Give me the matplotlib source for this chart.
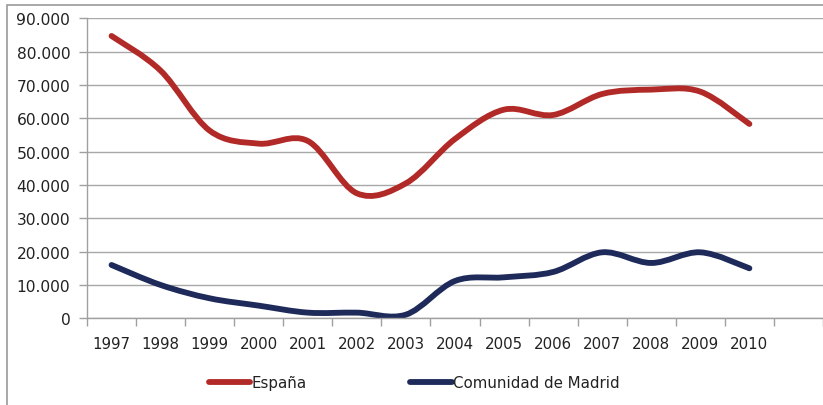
import numpy as np
import matplotlib.pyplot as plt
from matplotlib.path import Path
from matplotlib.patches import PathPatch, Rectangle
from matplotlib.lines import Line2D

plt.rcParams['font.family'] = ['DejaVu Sans']

years = ["1997", "1998", "1999", "2000", "2001", "2002", "2003",
         "2004", "2005", "2006", "2007", "2008", "2009", "2010"]
espana = [84.7, 74.3, 56.3, 52.4, 53.2, 37.5, 40.5,
          53.8, 62.6, 61.0, 67.3, 68.6, 68.0, 58.3]
madrid = [16.0, 10.0, 6.0, 3.8, 1.7, 1.7, 1.1,
          11.2, 12.3, 13.9, 19.8, 16.6, 19.8, 15.0]
y_ticks = [0, 10, 20, 30, 40, 50, 60, 70, 80, 90]
y_labels = ["0"] + [f"{v}.000" for v in y_ticks[1:]]

red = "#b22a27"
blue = "#1e2a5a"


def smooth_path(xs, ys):
    # bezier curve through the points, like excel smoothed lines
    pts = np.column_stack([xs, ys]).astype(float)
    verts = [pts[0]]
    codes = [Path.MOVETO]
    n = len(pts)
    for i in range(n - 1):
        p0 = pts[i - 1] if i > 0 else pts[i]
        p1 = pts[i]
        p2 = pts[i + 1]
        p3 = pts[i + 2] if i + 2 < n else pts[i + 1]
        c1 = p1 + (p2 - p0) / 6
        c2 = p2 - (p3 - p1) / 6
        verts += [c1, c2, p2]
        codes += [Path.CURVE4] * 3
    return Path(verts, codes)


fig = plt.figure(figsize=(8.23, 4.06), dpi=100)
ax = fig.add_axes([87 / 823, 86.7 / 406, (823 - 87) / 823, 300 / 406])

x = np.arange(len(years))
for vals, col in [(espana, red), (madrid, blue)]:
    ax.add_patch(PathPatch(smooth_path(x, vals), fill=False, edgecolor=col,
                           linewidth=4.2, capstyle="round", joinstyle="round"))

ax.set_xlim(-0.5, -0.5 + (823 - 87) / 49.3)
ax.set_ylim(0, 90)
ax.set_yticks(y_ticks)
ax.set_yticklabels(y_labels)
ax.set_xticks(x)
ax.set_xticklabels(years)
ax.set_xticks(np.arange(-0.5, 14.6, 1), minor=True)
ax.tick_params(axis="x", which="major", length=0, pad=13, labelsize=10.8)
ax.tick_params(axis="x", which="minor", length=6, color="#a0a0a0", width=1)
ax.tick_params(axis="y", length=6, color="#a0a0a0", width=1, pad=6,
               labelsize=11.2)
ax.tick_params(labelcolor="#222222")
ax.grid(axis="y", color="#a8a8a8", linewidth=1)
ax.set_axisbelow(True)
for s in ["top", "right"]:
    ax.spines[s].set_visible(False)
for s in ["left", "bottom"]:
    ax.spines[s].set_color("#a0a0a0")
    ax.spines[s].set_linewidth(1)

handles = [Line2D([], [], color=red, linewidth=4.2, solid_capstyle="round"),
           Line2D([], [], color=blue, linewidth=4.2, solid_capstyle="round")]
fig.legend(handles, ["España", "Comunidad de Madrid"], ncol=2,
           loc="center left", bbox_to_anchor=(209 / 823, 1 - 384 / 406),
           frameon=False, fontsize=10.8, handlelength=2.75, handletextpad=0.1,
           columnspacing=6.9, borderpad=0, borderaxespad=0,
           labelcolor="#222222")

fig.patches.append(Rectangle((7 / 823, -0.1), 1.2, 1 - 6 / 406 + 0.1,
                             transform=fig.transFigure, fill=False,
                             edgecolor="#9a9a9a", linewidth=1.2))

fig.savefig("out.png", dpi=100)
